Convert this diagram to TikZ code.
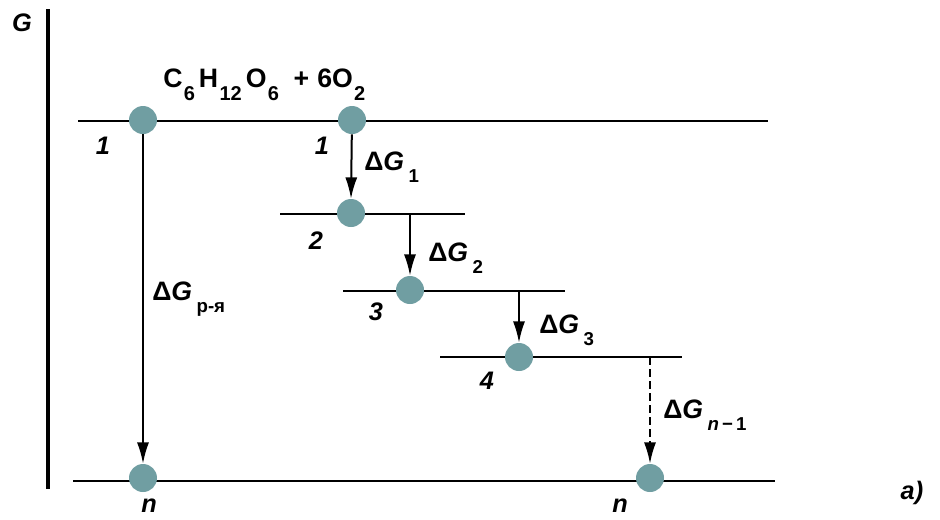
\documentclass[tikz,border=0pt]{standalone}
\usepackage{fontspec}
\setmainfont{Liberation Sans}
\usetikzlibrary{arrows.meta}
\definecolor{dot}{RGB}{112,158,162}
\newcommand{\sbs}[1]{\raisebox{-9pt}{\fontsize{14}{16}\selectfont #1}}
\newcommand{\fsb}[1]{\hspace{1pt}\raisebox{-10pt}{\fontsize{15}{17}\selectfont #1}\hspace{3pt}}
\begin{document}
\begin{tikzpicture}[x=0.75pt,y=-0.75pt,
  lvl/.style={line width=2pt},
  dotnode/.style={circle,fill=dot,inner sep=0pt,minimum size=21pt},
  arr/.style={line width=1.5pt,-{Latex[length=16pt,width=9pt]}},
  lab/.style={font=\fontsize{19}{22}\selectfont\bfseries\itshape,inner sep=0pt},
  txt/.style={font=\fontsize{20}{24}\selectfont\bfseries,inner sep=0pt,anchor=base west}]
\useasboundingbox (0,0) rectangle (940,519);
% axis
\draw[line width=2.4pt] (48,9) -- (48,489);
\node[lab] (G) at (22,23) {G};
% levels
\draw[lvl] (78,121) coordinate (t0) -- (768,121) coordinate (t1);
\draw[lvl] (280,214) coordinate (l2a) -- (465,214) coordinate (l2b);
\draw[lvl] (343,291) coordinate (l3a) -- (565,291) coordinate (l3b);
\draw[lvl] (440,357) coordinate (l4a) -- (682,357) coordinate (l4b);
\draw[lvl] (73,481) coordinate (b0) -- (775,481) coordinate (b1);
% dots
\node[dotnode] (c1a) at (143,120) {};
\node[dotnode] (c1b) at (352,120) {};
\node[dotnode] (c2) at (351,213) {};
\node[dotnode] (c3) at (410,290) {};
\node[dotnode] (c4) at (519,357) {};
\node[dotnode] (cna) at (143,478) {};
\node[dotnode] (cnb) at (650,478) {};
% start points of arrows on level lines
\coordinate (s2) at (410,214);
\coordinate (s3) at (519,291);
\coordinate (s4) at (650,357);
% arrows
\draw[arr] (c1a) -- (cna.north);
\draw[arr] (c1b) -- (c2.north);
\draw[arr] (s2) -- (c3.north);
\draw[arr] (s3) -- (c4.north);
\draw[arr,dash pattern=on 6pt off 3pt] (s4) -- (cnb.north);
% labels
\node[txt] (form) at (163,87) {C\fsb{6}H\fsb{12}O\fsb{6}\hspace{8pt}+\hspace{6pt}6O\fsb{2}};
\node[txt] (dg1) at (364,170) {Δ\textit{G}\,\sbs{1}};
\node[txt] (dg2) at (428,261) {Δ\textit{G}\,\sbs{2}};
\node[txt] (dg3) at (539,333) {Δ\textit{G}\,\sbs{3}};
\node[txt] (dgn) at (663,418) {Δ\textit{G}\,\sbs{\textit{n}\,−\,1}};
\node[txt] (dgr) at (152,300) {Δ\textit{G}\,\sbs{р-я}};
\node[lab] (n1a) at (103,146) {1};
\node[lab] (n1b) at (322,146) {1};
\node[lab] (n2) at (316,241) {2};
\node[lab] (n3) at (376,312) {3};
\node[lab] (n4) at (487,381) {4};
\node[lab] (nna) at (149,506) {n};
\node[lab] (nnb) at (620,506) {n};
\node[lab] (a) at (912,493) {a)};
\end{tikzpicture}
\end{document}
